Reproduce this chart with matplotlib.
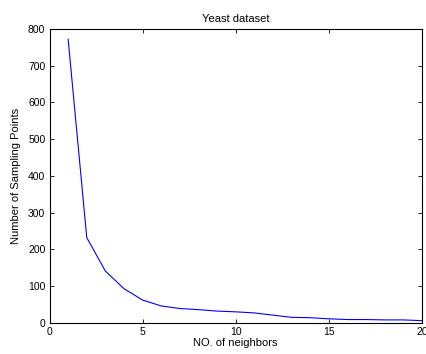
import matplotlib
matplotlib.use('Agg')
import matplotlib.pyplot as plt

plt.rcParams['font.family'] = ['Liberation Sans', 'DejaVu Sans']

# data
neighbors = [1, 2, 3, 4, 5, 6, 7, 8, 9, 10, 11, 12, 13, 14, 15, 16, 17, 18, 19, 20]
points = [772, 232, 141, 93, 62, 46, 39, 36, 32, 30, 27, 21, 15, 14, 11, 9, 9, 8, 8, 6]

fig = plt.figure(figsize=(4.27, 3.54), dpi=100)
ax = fig.add_axes([0.116, 0.088, 0.872, 0.830])

ax.plot(neighbors, points, color='blue', linewidth=0.8)
ax.set_xlim(0, 20)
ax.set_ylim(0, 800)
ax.set_xticks([0, 5, 10, 15, 20])
ax.set_yticks(range(0, 801, 100))
ax.tick_params(direction='in', top=True, right=True, labelsize=7.5, length=3, width=0.6, pad=3)
for s in ax.spines.values():
    s.set_linewidth(0.8)

ax.set_title('Yeast dataset', fontsize=8, pad=5)
ax.set_xlabel('NO. of neighbors', fontsize=8, labelpad=1)
ax.set_ylabel('Number of Sampling Points', fontsize=8, labelpad=5)

fig.savefig('out.png', dpi=100)
